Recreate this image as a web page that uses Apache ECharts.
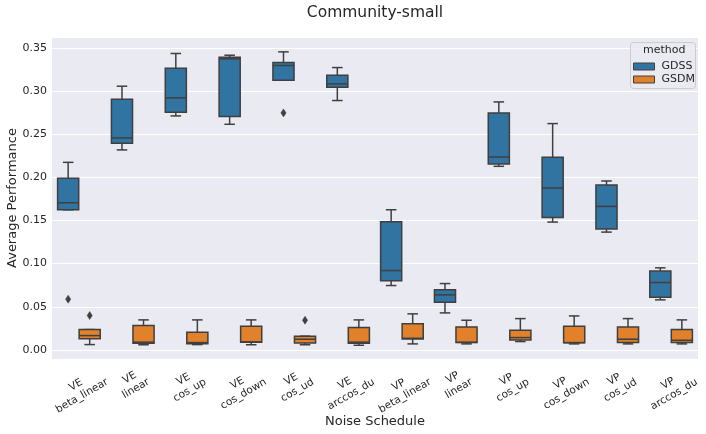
<!DOCTYPE html>
<html>
<head>
<meta charset="utf-8">
<script src="https://cdn.jsdelivr.net/npm/echarts@6/dist/echarts.min.js"></script>
<style>
html,body{margin:0;padding:0;background:#fff;}
#chart{width:706px;height:434px;}
</style>
</head>
<body>
<div id="chart"></div>
<script>
const categories = ['VE\nbeta_linear','VE\nlinear','VE\ncos_up','VE\ncos_down','VE\ncos_ud','VE\narccos_du','VP\nbeta_linear','VP\nlinear','VP\ncos_up','VP\ncos_down','VP\ncos_ud','VP\narccos_du'];

const gdssMin = [0.1624, 0.2317, 0.2711, 0.2614, 0.3124, 0.2889, 0.0746, 0.0429, 0.2127, 0.1481, 0.1365, 0.0580];
const gdssQ1  = [0.1624, 0.2394, 0.2753, 0.2703, 0.3124, 0.3043, 0.0800, 0.0553, 0.2154, 0.1535, 0.1400, 0.0611];
const gdssMed = [0.1705, 0.2456, 0.2920, 0.3372, 0.3295, 0.3082, 0.0920, 0.0638, 0.2235, 0.1876, 0.1663, 0.0781];
const gdssQ3  = [0.1990, 0.2904, 0.3264, 0.3390, 0.3330, 0.3182, 0.1485, 0.0696, 0.2746, 0.2231, 0.1910, 0.0913];
const gdssMax = [0.2173, 0.3055, 0.3434, 0.3414, 0.3453, 0.3271, 0.1624, 0.0769, 0.2873, 0.2622, 0.1957, 0.0951];
const gdssOutliers = [[0, 0.0588], [4, 0.2746]];

const gsdmMin = [0.0062, 0.0060, 0.0062, 0.0060, 0.0060, 0.0054, 0.0070, 0.0070, 0.0097, 0.0070, 0.0070, 0.0070];
const gsdmQ1  = [0.0131, 0.0078, 0.0073, 0.0090, 0.0081, 0.0077, 0.0128, 0.0085, 0.0116, 0.0082, 0.0085, 0.0085];
const gsdmMed = [0.0166, 0.0090, 0.0085, 0.0093, 0.0124, 0.0090, 0.0135, 0.0088, 0.0143, 0.0085, 0.0124, 0.0112];
const gsdmQ3  = [0.0236, 0.0282, 0.0205, 0.0275, 0.0159, 0.0259, 0.0302, 0.0267, 0.0228, 0.0275, 0.0267, 0.0236];
const gsdmMax = [0.0236, 0.0348, 0.0348, 0.0348, 0.0159, 0.0348, 0.0418, 0.0344, 0.0363, 0.0394, 0.0363, 0.0348];
const gsdmOutliers = [[0, 0.0398], [4, 0.0344]];

const FONT = 'DejaVu Sans';
const EDGE = '#3f3f3f';
const BLUE = '#3274a1';
const ORANGE = '#e1812c';
const TEXT = '#262626';
const LABEL_SIZE = 10.5;
const LABEL_LH = 12.5;

function boxData(mn, q1, md, q3, mx) {
  return categories.map((c, i) => [i, mn[i], q1[i], md[i], q3[i], mx[i]]);
}

function boxRender(offsetFrac, color) {
  return function (params, api) {
    const ci = api.value(0);
    const band = api.size([1, 0])[0];
    const cx = api.coord([ci, 0])[0] + offsetFrac * band;
    const w = band * 0.4 * 0.98;
    const yLo = api.coord([ci, api.value(1)])[1];
    const yQ1 = api.coord([ci, api.value(2)])[1];
    const yMd = api.coord([ci, api.value(3)])[1];
    const yQ3 = api.coord([ci, api.value(4)])[1];
    const yHi = api.coord([ci, api.value(5)])[1];
    const ls = { stroke: EDGE, lineWidth: 1.5, fill: null };
    const cw = w / 4;
    return {
      type: 'group',
      children: [
        { type: 'line', shape: { x1: cx, y1: yQ1, x2: cx, y2: yLo }, style: ls },
        { type: 'line', shape: { x1: cx, y1: yQ3, x2: cx, y2: yHi }, style: ls },
        { type: 'line', shape: { x1: cx - cw, y1: yLo, x2: cx + cw, y2: yLo }, style: ls },
        { type: 'line', shape: { x1: cx - cw, y1: yHi, x2: cx + cw, y2: yHi }, style: ls },
        { type: 'rect', shape: { x: cx - w / 2, y: yQ3, width: w, height: Math.max(yQ1 - yQ3, 0.5) },
          style: { fill: color, stroke: EDGE, lineWidth: 1.5 } },
        { type: 'line', shape: { x1: cx - w / 2, y1: yMd, x2: cx + w / 2, y2: yMd }, style: ls }
      ]
    };
  };
}

function outlierRender(offsetFrac) {
  return function (params, api) {
    const ci = api.value(0);
    const band = api.size([1, 0])[0];
    const p = api.coord([ci, api.value(1)]);
    const cx = p[0] + offsetFrac * band;
    const cy = p[1];
    return {
      type: 'polygon',
      shape: { points: [[cx, cy - 4], [cx + 2.6, cy], [cx, cy + 4], [cx - 2.6, cy]] },
      style: { fill: EDGE, stroke: EDGE, lineWidth: 0.5 }
    };
  };
}

// tick labels: rotated 30deg, bounding box centred on the tick with its top just below the axes (matplotlib style)
const measureCtx = document.createElement('canvas').getContext('2d');
measureCtx.font = LABEL_SIZE + 'px "' + FONT + '"';
function labelRender(params, api) {
  const i = api.value(0);
  const x = api.coord([i, 0])[0];
  const top = params.coordSys.y + params.coordSys.height + 6;
  const lines = categories[i].split('\n');
  const w = Math.max.apply(null, lines.map(l => measureCtx.measureText(l).width));
  const h = lines.length * LABEL_LH;
  const th = Math.PI / 6;
  const halfH = w / 2 * Math.sin(th) + h / 2 * Math.cos(th);
  return {
    type: 'text',
    x: x, y: top + halfH, rotation: th,
    style: {
      text: categories[i], align: 'center', verticalAlign: 'middle',
      fontFamily: FONT, fontSize: LABEL_SIZE, lineHeight: LABEL_LH, fill: TEXT
    }
  };
}

const chart = echarts.init(document.getElementById('chart'), null, { renderer: 'canvas' });

chart.setOption({
  animation: false,
  backgroundColor: '#ffffff',
  textStyle: { fontFamily: FONT },
  title: {
    text: 'Community-small',
    left: 375, top: 5, textAlign: 'center', padding: 0,
    textStyle: { fontFamily: FONT, fontSize: 15.5, fontWeight: 'normal', color: TEXT }
  },
  grid: {
    left: 52, top: 37, right: 8, bottom: 75,
    containLabel: false, outerBoundsMode: 'none',
    show: true, backgroundColor: '#eaeaf2', borderWidth: 0
  },
  graphic: [
    { type: 'rect', left: 630, top: 42, z: 5,
      shape: { width: 65, height: 46, r: 3 },
      style: { fill: 'rgba(234,234,242,0.8)', stroke: '#cccccc', lineWidth: 1 } },
    { type: 'text', left: 643, top: 45, z: 6,
      style: { text: 'method', fontFamily: FONT, fontSize: 11, fill: TEXT } }
  ],
  legend: {
    orient: 'vertical', left: 633, top: 61, z: 10, padding: 0,
    itemWidth: 21, itemHeight: 7, itemGap: 2,
    icon: 'rect',
    textStyle: { fontFamily: FONT, fontSize: 11, color: TEXT, padding: [0, 0, 0, 2] },
    data: [
      { name: 'GDSS', itemStyle: { color: BLUE, borderColor: EDGE, borderWidth: 1 } },
      { name: 'GSDM', itemStyle: { color: ORANGE, borderColor: EDGE, borderWidth: 1 } }
    ]
  },
  xAxis: {
    type: 'category',
    data: categories,
    boundaryGap: true,
    axisLine: { show: false },
    axisTick: { show: false },
    splitLine: { show: false },
    axisLabel: { show: false },
    name: 'Noise Schedule',
    nameLocation: 'middle', nameGap: 56, nameMoveOverlap: false,
    nameTextStyle: { fontFamily: FONT, fontSize: 13, color: TEXT }
  },
  yAxis: {
    type: 'value',
    min: -0.0105, max: 0.3625,
    splitNumber: 8,
    axisLine: { show: false },
    axisTick: { show: false },
    splitLine: { show: true, lineStyle: { color: '#ffffff', width: 1 } },
    axisLabel: {
      showMinLabel: false, showMaxLabel: false,
      fontFamily: FONT, fontSize: 11, color: TEXT, margin: 5,
      formatter: v => v.toFixed(2)
    },
    name: 'Average Performance',
    nameLocation: 'middle', nameGap: 33, nameRotate: 90, nameMoveOverlap: false,
    nameTextStyle: { fontFamily: FONT, fontSize: 13, color: TEXT }
  },
  series: [
    { name: 'GDSS', type: 'custom', renderItem: boxRender(-0.2, BLUE), itemStyle: { color: BLUE },
      encode: { x: 0, y: [1, 2, 3, 4, 5] }, data: boxData(gdssMin, gdssQ1, gdssMed, gdssQ3, gdssMax) },
    { name: 'GSDM', type: 'custom', renderItem: boxRender(0.2, ORANGE), itemStyle: { color: ORANGE },
      encode: { x: 0, y: [1, 2, 3, 4, 5] }, data: boxData(gsdmMin, gsdmQ1, gsdmMed, gsdmQ3, gsdmMax) },
    { name: 'GDSS', type: 'custom', renderItem: outlierRender(-0.2), itemStyle: { color: BLUE },
      encode: { x: 0, y: 1 }, data: gdssOutliers },
    { name: 'GSDM', type: 'custom', renderItem: outlierRender(0.2), itemStyle: { color: ORANGE },
      encode: { x: 0, y: 1 }, data: gsdmOutliers },
    { name: 'tickLabels', type: 'custom', renderItem: labelRender, clip: false, silent: true,
      encode: { x: 0, y: 1 }, data: categories.map((c, i) => [i, 0]) }
  ]
});
</script>
</body>
</html>
